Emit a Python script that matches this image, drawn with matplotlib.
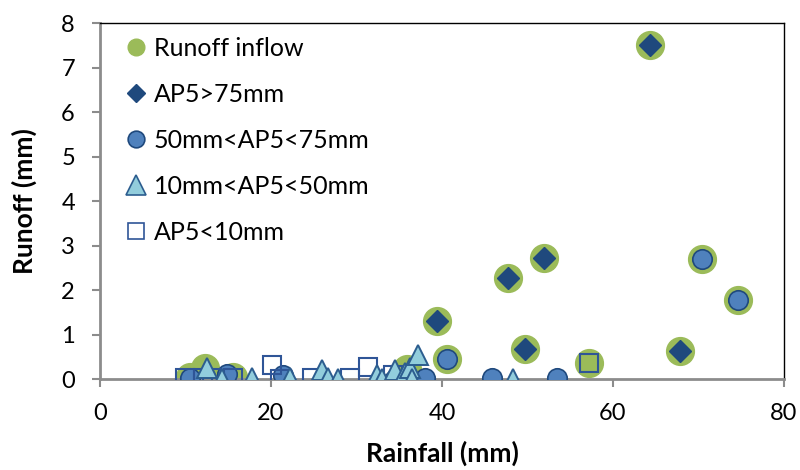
import matplotlib
matplotlib.use("Agg")
import matplotlib.pyplot as plt
from matplotlib.lines import Line2D

plt.rcParams['font.family'] = ['Lato', 'DejaVu Sans']

# Runoff inflow (green)
inflow_x = [10.5, 12.3, 15.6, 35.9, 39.4, 40.6, 47.7, 49.7, 51.9, 57.2, 64.3, 67.8, 70.4, 74.6]
inflow_y = [0.05, 0.25, 0.05, 0.22, 1.30, 0.45, 2.27, 0.68, 2.72, 0.35, 7.50, 0.62, 2.70, 1.78]

# AP5>75mm
ap75_x = [34.2, 39.4, 47.7, 49.7, 51.9, 64.3, 67.8]
ap75_y = [0.00, 1.30, 2.27, 0.68, 2.72, 7.50, 0.62]

# 50mm<AP5<75mm
ap50_x = [10.5, 14.9, 21.4, 38.0, 40.6, 45.8, 53.4, 70.4, 74.6]
ap50_y = [0.02, 0.12, 0.10, 0.02, 0.45, 0.03, 0.03, 2.70, 1.78]

# 10mm<AP5<50mm
ap10_x = [12.5, 14.3, 17.8, 22.2, 26.0, 26.7, 27.8, 32.4, 33.0, 34.5, 35.7, 36.3, 36.5, 37.2, 48.3]
ap10_y = [0.25, 0.00, 0.02, 0.02, 0.20, 0.02, 0.00, 0.10, 0.00, 0.20, 0.13, 0.25, 0.00, 0.55, 0.00]

# AP5<10mm
ap0_x = [9.9, 12.0, 13.1, 15.6, 20.1, 21.0, 24.8, 29.2, 31.3, 34.3, 57.2]
ap0_y = [0.02, 0.02, 0.02, 0.02, 0.32, 0.00, 0.02, 0.02, 0.27, 0.10, 0.35]

labels = ['Runoff inflow', 'AP5>75mm', '50mm<AP5<75mm', '10mm<AP5<50mm', 'AP5<10mm']

fig = plt.figure(figsize=(8, 4.7), dpi=100)
ax = fig.add_axes([0.125, 0.1936, 0.855, 0.7574])

ax.plot(inflow_x, inflow_y, 'o', ms=20, color='#9BBB59', mec='#9BBB59', zorder=2)
ax.plot(ap75_x, ap75_y, 'D', ms=11, color='#1F497D', mec='#1F497D', zorder=3)
ax.plot(ap50_x, ap50_y, 'o', ms=14, color='#4F81BD', mec='#1F497D', mew=1.2, zorder=4)
ax.plot(ap0_x, ap0_y, 's', ms=13, mfc='none', mec='#2F5597', mew=1.5, zorder=5)
ax.plot(ap10_x, ap10_y, '^', ms=14, color='#92CDDC', mec='#2C5D8F', mew=1.4, zorder=6)

ax.set_xlim(0, 80)
ax.set_ylim(0, 8)
ax.set_xticks([0, 20, 40, 60, 80])
ax.set_yticks(range(0, 9))

for s in ['left', 'bottom']:
    ax.spines[s].set_color('#8C8C8C')
    ax.spines[s].set_linewidth(2)
for s in ['top', 'right']:
    ax.spines[s].set_color('#000000')
    ax.spines[s].set_linewidth(1)

ax.tick_params(axis='both', which='both', direction='out', length=6, width=1.5,
               color='#8C8C8C', labelsize=17, labelcolor='black')
ax.tick_params(axis='x', pad=11)
ax.tick_params(axis='y', pad=12)

ax.set_xlabel('Rainfall (mm)', fontsize=19, fontweight='bold')
ax.set_ylabel('Runoff (mm)', fontsize=19, fontweight='bold')
ax.xaxis.set_label_coords(0.5, -0.208)
ax.yaxis.set_label_coords(-0.111, 0.5)
ax.xaxis.label.set_va('center')
ax.yaxis.label.set_va('center')

leg_handles = [
    Line2D([], [], ls='none', marker='o', ms=12, color='#9BBB59'),
    Line2D([], [], ls='none', marker='D', ms=9, color='#1F497D'),
    Line2D([], [], ls='none', marker='o', ms=12, color='#4F81BD', mec='#1F497D', mew=1.2),
    Line2D([], [], ls='none', marker='^', ms=14, color='#92CDDC', mec='#2C5D8F', mew=1.2),
    Line2D([], [], ls='none', marker='s', ms=12, mfc='white', mec='#2F5597', mew=1.2),
]
ax.legend(leg_handles, labels, loc='upper left', bbox_to_anchor=(0.02, 1.0),
          frameon=False, fontsize=18, handlelength=0.7, handletextpad=0.35,
          labelspacing=0.92, borderaxespad=0.15)

fig.savefig('out.png', dpi=100)
